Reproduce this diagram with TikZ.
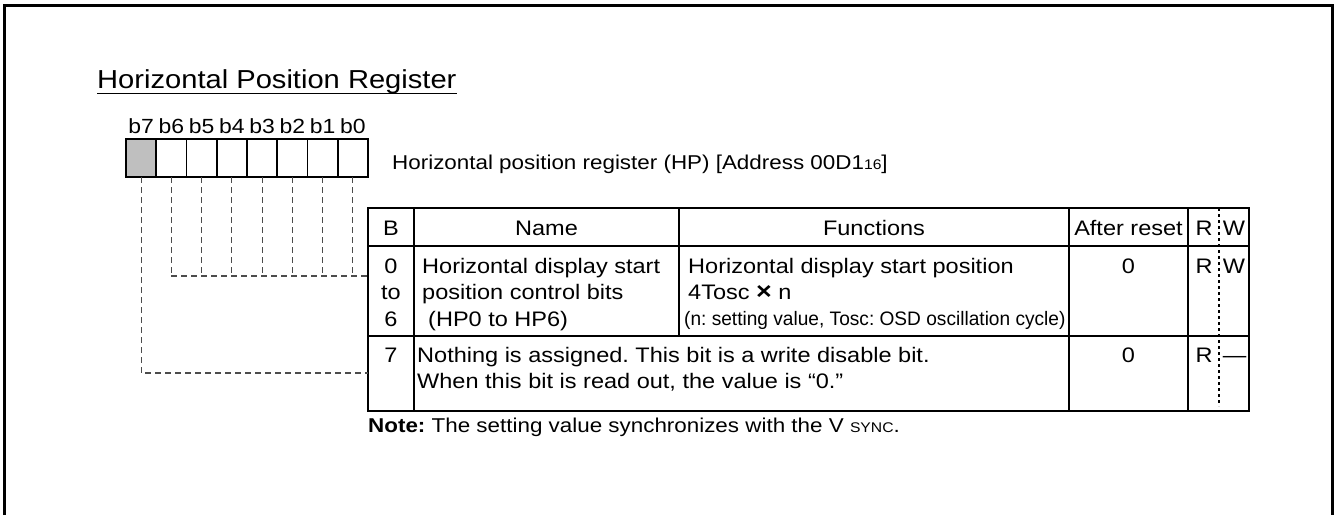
\documentclass[tikz,border=0pt]{standalone}
\usepackage{fontspec}
\setmainfont[FakeStretch=1.12]{Liberation Sans}
\newfontfamily\narrowfont[FakeStretch=0.98]{Liberation Sans}
\usetikzlibrary{positioning,calc}
\frenchspacing
\begin{document}
\begin{tikzpicture}[x=1pt,y=-1pt,
cell/.style={draw,line width=1.8pt,minimum width=30.25pt,minimum height=38pt,inner sep=0pt,outer sep=0pt},
lead/.style={draw=black!70,line width=1.1pt,dash pattern=on 6pt off 4pt},
rule/.style={line width=1.8pt},
lbl/.style={inner sep=0pt,font=\fontsize{20.5}{20.5}\selectfont},
tl/.style={inner sep=0pt,anchor=base west,font=\fontsize{21}{21}\selectfont},
tc/.style={inner sep=0pt,anchor=base,font=\fontsize{21}{21}\selectfont}]
\useasboundingbox (0,0) rectangle (1335,515);
\draw[line width=3pt] (4,515)--(4,5)--(1332,5)--(1332,515);
% title
\node[tl,font=\fontsize{26}{26}\selectfont](title) at (97,88){Horizontal Position Register};
\draw[line width=1.8pt] ($(title.base west)+(0,5.5)$)--($(title.base east)+(0,5.5)$);
% bit cells
\node[cell,fill=black!25](c7) at (141.1,158){};
\foreach \b/\p in {6/7,5/6,4/5,3/4,2/3,1/2,0/1}
  \node[cell,right=0pt of c\p](c\b){};
\foreach \b in {7,...,0} \node[lbl,above=5pt of c\b](l\b){b\b};
\node[tl,font=\fontsize{20}{20}\selectfont](reg) at (392,169){Horizontal position register (HP) [Address 00D1{\fontsize{14}{14}\selectfont 16}]};
% table
\draw[rule](368,208) rectangle (1249,411);
\draw[rule](368,246)--(1249,246) (368,336)--(1249,336);
\draw[rule](414,208)--(414,411) (679,208)--(679,336) (1069,208)--(1069,411) (1188,208)--(1188,411);
\draw[line width=1.8pt,dash pattern=on 3pt off 3pt](1219,208)--(1219,406);
% leaders
\coordinate(r1) at (368,276); \coordinate(r2) at (368,373);
\draw[lead](c7.south)|-(r2);
\foreach \b in {6,...,0} \draw[lead](c\b.south)--(c\b.south|-r1);
\draw[lead](c6.south|-r1)--(r1);
% header
\node[tc](hB) at (391,235){B}; \node[tc](hN) at (546.5,235){Name};
\node[tc](hF) at (874,235){Functions}; \node[tc](hA) at (1128.5,235){After reset};
\node[tc](hR) at (1204,235){R}; \node[tc](hW) at (1234,235){W};
% row 0 to 6
\node[tc](k1a) at (391,273){0}; \node[tc](k1b) at (391,299.5){to}; \node[tc](k1c) at (391,326){6};
\node[tl](n1a) at (422,273){Horizontal display start};
\node[tl](n1b) at (422,299.5){position control bits};
\node[tl](n1c) at (428,326){(HP0 to HP6)};
\node[tl](f1a) at (688,273){Horizontal display start position};
\node[tl](f1b) at (688,299.5){4Tosc {\bfseries\fontsize{24}{24}\selectfont ×} n};
\node[tl,font=\narrowfont\fontsize{19.5}{19.5}\selectfont](f1c) at (684,325){(n: setting value, Tosc: OSD oscillation cycle)};
\node[tc](a1) at (1128.5,273){0}; \node[tc](r1r) at (1204,273){R}; \node[tc](r1w) at (1234,273){W};
% row 7
\node[tc](k2) at (391,362){7};
\node[tl](n2a) at (417,362){Nothing is assigned. This bit is a write disable bit.};
\node[tl](n2b) at (417,388){When this bit is read out, the value is “0.”};
\node[tc](a2) at (1128.5,362){0}; \node[tc](r2r) at (1204,362){R}; \node[tc](r2w) at (1234.5,362){—};
% note
\node[tl,font=\fontsize{20}{20}\selectfont](note) at (368,432){\textbf{Note:} The setting value synchronizes with the V {\fontsize{14}{14}\selectfont SYNC}.};
\end{tikzpicture}
\end{document}
